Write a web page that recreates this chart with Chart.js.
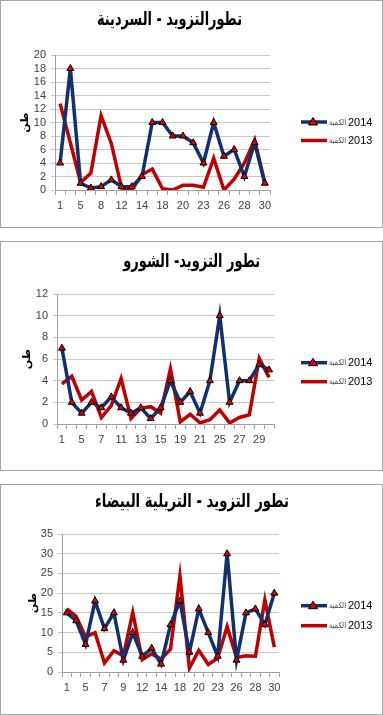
<!DOCTYPE html>
<html>
<head>
<meta charset="utf-8">
<script src="https://cdn.jsdelivr.net/npm/chart.js@4.4.1/dist/chart.umd.min.js"></script>
<style>
  body { margin: 0; background: #fff; }
  .box { position: absolute; left: 0; width: 383px; border: 1px solid #a6a6a6; box-sizing: border-box; background: #fff; }
  canvas { display: block; }
</style>
</head>
<body>
<div class="box" style="top:0;height:228px"><canvas id="c1" width="381" height="226"></canvas></div>
<div class="box" style="top:241px;height:230px"><canvas id="c2" width="381" height="228"></canvas></div>
<div class="box" style="top:484px;height:231px"><canvas id="c3" width="381" height="229"></canvas></div>
<script>
// السردينة
const days1 = ['1','3','5','6','8','10','12','13','14','16','18','19','20','22','23','25','26','27','28','29','30'];
const sardine2014 = [4, 18, 1, 0.3, 0.5, 1.5, 0.5, 0.5, 2, 10, 10, 8, 8, 7, 4, 10, 5, 6, 2, 7, 1];
const sardine2013 = [12.8, 7, 1.1, 2.5, 11, 6.9, 0.3, 0, 2.3, 3.1, 0.2, 0, 0.7, 0.7, 0.4, 4.7, 0, 1.6, 4, 7.4, 1];

// الشورو
const days2 = ['1','4','5','6','7','8','11','12','13','14','15','18','19','20','21','22','25','26','27','28','29','30'];
const chourou2014 = [7, 2, 1, 2, 1.5, 2.5, 1.5, 1, 1.5, 0.5, 1.5, 4, 2, 3, 1, 4, 10, 2, 4, 4, 5.5, 5];
const chourou2013 = [3.7, 4.4, 2.2, 3, 0.6, 1.7, 4.2, 0.5, 1.45, 1.6, 1, 5.1, 0.2, 0.9, 0.1, 0.4, 1.3, 0.1, 0.6, 0.85, 6.05, 4.3];

// التريلية البيضاء
const days3 = ['1','4','5','6','7','8','9','11','12','13','14','15','18','19','20','22','23','25','26','27','28','29','30'];
const trilia2014 = [15, 13, 7, 18, 11, 15, 3, 10, 4, 6, 2, 12, 18, 5, 16, 10, 4, 30, 3, 15, 16, 12, 20];
const trilia2013 = [16, 14.1, 8.9, 10, 2.3, 5.4, 4.1, 15.1, 3.1, 4.6, 3.3, 5.8, 24.4, 1, 5.5, 1.9, 3.5, 11.5, 3.7, 4.1, 4, 18.3, 6.3];

const seriesNames = ['2014', '2013'];
const qtyWord = 'الكمية';

const NAVY = '#10306e';
const RED = '#c00000';

// titre, légende et titre d'axe dessinés à la main
const decor = {
  id: 'decor',
  afterDraw(chart, args, o) {
    const ctx = chart.ctx;
    const a = chart.chartArea;
    ctx.save();
    // titre : police haute, compressée en largeur
    ctx.font = 'bold 19px "DejaVu Sans"';
    const sx = o.titleWidth / ctx.measureText(o.title).width;
    ctx.save();
    ctx.translate(o.titleX, o.titleY);
    ctx.scale(Math.min(sx, 1), 1);
    ctx.fillStyle = '#000';
    ctx.textAlign = 'center';
    ctx.textBaseline = 'middle';
    ctx.fillText(o.title, 0, 0);
    ctx.restore();
    // titre axe Y
    ctx.save();
    ctx.translate(o.axisX, (a.top + a.bottom) / 2);
    ctx.rotate(-Math.PI / 2);
    ctx.textAlign = 'center';
    ctx.textBaseline = 'middle';
    ctx.fillStyle = '#000';
    ctx.font = 'bold 11px "DejaVu Sans"';
    ctx.fillText('طن', 0, 0);
    ctx.restore();
    // légende
    const ys = [o.legY1, o.legY2];
    const cols = [NAVY, RED];
    ctx.textBaseline = 'middle';
    for (let i = 0; i < 2; i++) {
      ctx.strokeStyle = cols[i];
      ctx.lineWidth = 3.5;
      ctx.beginPath();
      ctx.moveTo(300, ys[i]);
      ctx.lineTo(326, ys[i]);
      ctx.stroke();
      if (i === 0) {
        ctx.beginPath();
        ctx.moveTo(312, ys[i] - 4.5);
        ctx.lineTo(316.5, ys[i] + 3);
        ctx.lineTo(307.5, ys[i] + 3);
        ctx.closePath();
        ctx.fillStyle = '#e00000';
        ctx.fill();
        ctx.strokeStyle = '#000';
        ctx.lineWidth = 1;
        ctx.stroke();
      }
      ctx.fillStyle = '#404040';
      ctx.textAlign = 'left';
      ctx.font = '8px "DejaVu Sans"';
      ctx.fillText(qtyWord, 328, ys[i] + 0.5, 17);
      ctx.fillStyle = '#000';
      ctx.font = '11px "Liberation Sans"';
      ctx.fillText(seriesNames[i], 347, ys[i] + 0.5);
    }
    ctx.restore();
  }
};

function makeChart(id, labels, s2014, s2013, yMax, yStep, d) {
  const canvas = document.getElementById(id);
  new Chart(canvas, {
    type: 'line',
    data: {
      labels: labels,
      datasets: [
        {
          label: qtyWord + ' ' + seriesNames[0],
          data: s2014,
          borderColor: NAVY,
          borderWidth: 3.5,
          tension: 0,
          pointStyle: 'triangle',
          pointRadius: 4,
          pointBackgroundColor: '#e00000',
          pointBorderColor: '#000',
          pointBorderWidth: 1,
          order: 0
        },
        {
          label: qtyWord + ' ' + seriesNames[1],
          data: s2013,
          borderColor: RED,
          borderWidth: 3.5,
          tension: 0,
          pointRadius: 0,
          order: 1
        }
      ]
    },
    options: {
      responsive: false,
      animation: false,
      layout: { padding: { left: d.left - 40, right: canvas.width - d.right, top: d.top, bottom: 0 } },
      plugins: {
        legend: { display: false },
        title: { display: false },
        tooltip: { enabled: false },
        decor: d
      },
      scales: {
        x: {
          offset: true,
          grid: { offset: true, drawOnChartArea: false, tickLength: 5, color: '#a0a0a0' },
          border: { color: '#a0a0a0' },
          afterFit: (s) => { s.height = canvas.height - d.bottom; },
          ticks: {
            autoSkip: false,
            maxRotation: 0,
            padding: 4,
            color: '#404040',
            font: { family: 'Liberation Sans', size: 11 },
            callback: function (v, i) { return i % 2 === 0 ? this.getLabelForValue(v) : ''; }
          }
        },
        y: {
          min: 0,
          max: yMax,
          grid: { color: '#c8c8c8', tickLength: 4 },
          border: { color: '#a0a0a0' },
          afterFit: (s) => { s.width = 40; },
          ticks: {
            stepSize: yStep,
            autoSkip: false,
            padding: 5,
            color: '#404040',
            font: { family: 'Liberation Sans', size: 11 }
          }
        }
      }
    },
    plugins: [decor]
  });
}

makeChart('c1', days1, sardine2014, sardine2013, 20, 2,
  { title: 'تطورالتزويد - السردينة', titleX: 168.5, titleY: 19, titleWidth: 145, axisX: 24,
    left: 54, right: 269, top: 54, bottom: 189, legY1: 121, legY2: 139.5 });
makeChart('c2', days2, chourou2014, chourou2013, 12, 2,
  { title: 'تطور التزويد- الشورو', titleX: 190.7, titleY: 20, titleWidth: 137, axisX: 26,
    left: 56, right: 273, top: 52, bottom: 182, legY1: 120.7, legY2: 139.7 });
makeChart('c3', days3, trilia2014, trilia2013, 35, 5,
  { title: 'تطور التزويد - التريلية البيضاء', titleX: 191, titleY: 16.7, titleWidth: 194, axisX: 32,
    left: 61, right: 278, top: 49, bottom: 187, legY1: 120.7, legY2: 140.7 });
</script>
</body>
</html>
